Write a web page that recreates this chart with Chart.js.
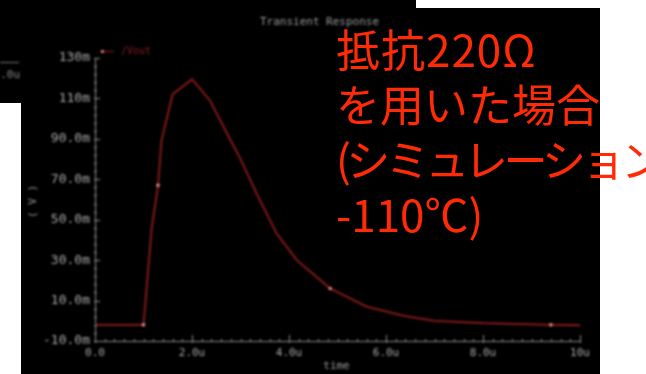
<!DOCTYPE html>
<html>
<head>
<meta charset="utf-8">
<script src="https://cdn.jsdelivr.net/npm/chart.js@4.4.1/dist/chart.umd.min.js"></script>
<style>
  html, body { margin: 0; padding: 0; background: #fff; }
  #stage { position: relative; width: 646px; height: 374px; overflow: hidden; background: #fff; }
  .blk { position: absolute; background: #000; }
  .wht { position: absolute; background: #fff; }
  #plot { position: absolute; left: 0; top: 0; filter: blur(0.85px); }
  #note {
    position: absolute; left: 336px; top: 21px;
    font-family: "Noto Sans CJK JP", sans-serif; font-size: 44px; line-height: 55px;
    color: #ff2b06; white-space: nowrap;
  }
  #note .wide { letter-spacing: 1px; }
  #note .tight { letter-spacing: -4.5px; }
</style>
</head>
<body>
<div id="stage">
  <div class="blk" style="left:21px;top:0;width:579px;height:374px"></div>
  <div class="blk" style="left:0;top:0;width:21px;height:103px"></div>
  <div class="wht" style="left:416px;top:0;width:184px;height:8px"></div>
  <canvas id="plot" width="646" height="374"></canvas>
  <div id="note"><span class="wide">抵抗220Ω</span><br>を用いた場合<br><span class="tight">(シミュレーション</span><br>-110℃)</div>
</div>
<script>
// Transient response of /Vout (time in µs, voltage in mV)
const timeUs = [0, 1.0, 1.17, 1.3, 1.37, 1.6, 2.0, 2.37, 2.65, 3.0, 3.33, 3.75, 4.16, 4.85, 5.6, 6.35, 7.0, 8.0, 9.4, 10.0];
const voutMv = [-2, -2, 46, 67, 89, 112, 119.5, 109, 96, 80, 63, 43, 30, 16, 7, 2.5, 0, -1.2, -2, -2.2];

// Sample points that carry a marker on the trace
const markerTimes = [1.0, 1.3, 4.85, 9.4];

// Axis ticks
const xTickValues = [0, 2, 4, 6, 8, 10];
const xTickLabels = ['0.0', '2.0u', '4.0u', '6.0u', '8.0u', '10u'];
const yTickValues = [-10, 10, 30, 50, 70, 90, 110, 130];
const yTickLabels = ['-10.0m', '10.0m', '30.0m', '50.0m', '70.0m', '90.0m', '110m', '130m'];
const xMinorStep = 0.2;
const yMinorStep = 4;

const GREY = '#a8a8a8';
const AXIS = '#8c8c8c';
const TRACE = '#961c1c';
const MONO = '"DejaVu Sans Mono", monospace';

// Inward tick marks, title, axis names and the legend entry
const scopeDecor = {
  id: 'scopeDecor',
  afterDraw(chart) {
    const { ctx, chartArea: a, scales: { x, y } } = chart;
    ctx.save();
    ctx.strokeStyle = AXIS;
    ctx.lineWidth = 1;
    ctx.beginPath();
    const nx = Math.round((x.max - x.min) / xMinorStep);
    for (let i = 0; i <= nx; i++) {
      const v = x.min + i * xMinorStep;
      const px = Math.round(x.getPixelForValue(v)) + 0.5;
      const major = xTickValues.some(t => Math.abs(t - v) < 1e-6);
      ctx.moveTo(px, a.bottom + (major ? 2 : 1));
      ctx.lineTo(px, a.bottom - (major ? 6 : 2));
    }
    const ny = Math.round((y.max - y.min) / yMinorStep);
    for (let i = 0; i <= ny; i++) {
      const v = y.min + i * yMinorStep;
      const py = Math.round(y.getPixelForValue(v)) + 0.5;
      const major = yTickValues.some(t => Math.abs(t - v) < 1e-6);
      ctx.moveTo(a.left - 1, py);
      ctx.lineTo(a.left + (major ? 5 : 2), py);
    }
    ctx.stroke();

    ctx.fillStyle = '#9a9a9a';
    ctx.font = '11px ' + MONO;
    ctx.textAlign = 'center';
    ctx.textBaseline = 'middle';
    ctx.fillText('Transient Response', (a.left + a.right) / 2 - 18, 22);
    ctx.fillText('time', (a.left + a.right) / 2 - 1, 366);

    ctx.save();
    ctx.translate(33, (a.top + a.bottom) / 2 + 2);
    ctx.rotate(-Math.PI / 2);
    ctx.fillText('( V )', 0, 0);
    ctx.restore();

    // legend entry
    ctx.strokeStyle = TRACE;
    ctx.beginPath();
    ctx.moveTo(a.left + 5, 51.5);
    ctx.lineTo(a.left + 19, 51.5);
    ctx.stroke();
    ctx.fillStyle = '#d07070';
    ctx.fillRect(a.left + 6, 50, 3, 3);
    ctx.fillStyle = '#8c1e1e';
    ctx.font = '10px ' + MONO;
    ctx.textAlign = 'left';
    ctx.fillText('/Vout', a.left + 26, 51);

    // neighbouring window edge
    ctx.strokeStyle = '#777';
    ctx.beginPath();
    ctx.moveTo(0, 62.5);
    ctx.lineTo(19, 62.5);
    ctx.stroke();
    ctx.fillStyle = '#8a8a8a';
    ctx.font = '11px ' + MONO;
    ctx.textAlign = 'right';
    ctx.fillText('1.0u', 20, 75);
    ctx.restore();
  }
};

new Chart(document.getElementById('plot'), {
  type: 'line',
  data: {
    datasets: [{
      label: '/Vout',
      data: timeUs.map((t, i) => ({ x: t, y: voutMv[i] })),
      borderColor: TRACE,
      borderWidth: 1.8,
      tension: 0,
      pointRadius: c => (c.raw && markerTimes.includes(c.raw.x)) ? 1.8 : 0,
      pointBackgroundColor: '#e89090',
      pointBorderWidth: 0
    }]
  },
  options: {
    responsive: false,
    animation: false,
    devicePixelRatio: 1,
    layout: { padding: { left: 0, top: 58, right: 66, bottom: 0 } },
    plugins: { legend: { display: false }, tooltip: { enabled: false }, title: { display: false } },
    scales: {
      x: {
        type: 'linear', min: 0, max: 10,
        afterFit: s => { s.height = 33; },
        afterBuildTicks: s => { s.ticks = xTickValues.map(v => ({ value: v })); },
        ticks: {
          autoSkip: false, maxRotation: 0, padding: 6,
          color: GREY, font: { family: MONO, size: 11 },
          callback: (v, i) => xTickLabels[i]
        },
        grid: { display: false, drawTicks: false },
        border: { display: true, color: AXIS, width: 1 }
      },
      y: {
        type: 'linear', min: -10, max: 130,
        afterFit: s => { s.width = 95; },
        afterBuildTicks: s => { s.ticks = yTickValues.map(v => ({ value: v })); },
        ticks: {
          autoSkip: false, padding: 5,
          color: GREY, font: { family: MONO, size: 13 },
          callback: (v, i) => yTickLabels[i]
        },
        grid: { display: false, drawTicks: false },
        border: { display: true, color: AXIS, width: 1 }
      }
    }
  },
  plugins: [scopeDecor]
});
</script>
</body>
</html>
